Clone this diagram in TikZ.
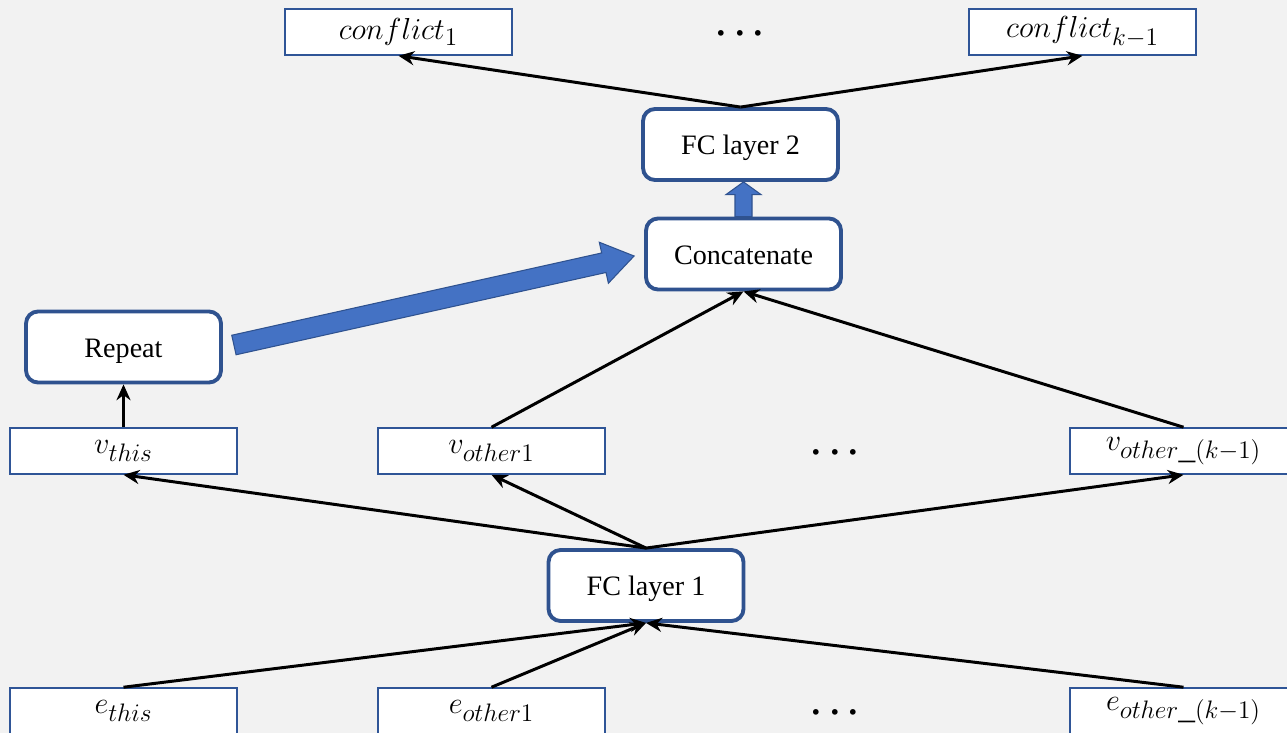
\documentclass[tikz,border=0pt]{standalone}
\usepackage{fontspec}
\setmainfont{Liberation Serif}
\usetikzlibrary{arrows.meta,calc}
\definecolor{bgc}{HTML}{F2F2F2}
\definecolor{framec}{HTML}{2F5597}
\definecolor{layerc}{HTML}{2F528F}
\definecolor{fatc}{HTML}{4472C4}

\begin{document}
\begin{tikzpicture}[x=0.02cm,y=-0.02cm,
  vecbox/.style={draw=framec, line width=0.9pt, fill=white,
    minimum width=4.54cm, minimum height=0.92cm, inner sep=0pt,
    font=\fontsize{19}{22}\selectfont},
  layerbox/.style={draw=layerc, line width=2.2pt, fill=white,
    rounded corners=0.24cm, minimum width=3.9cm, minimum height=1.42cm,
    inner sep=0pt, text height=15pt, text depth=3.5pt,
    font=\fontsize{16}{19}\selectfont},
  flow/.style={-{Stealth[length=9pt,width=8pt]}, line width=1.7pt, black},
  fatarrow/.style={fill=fatc, draw=layerc, line width=0.6pt},
  dotsnode/.style={font=\fontsize{20}{22}\selectfont\boldmath, inner sep=0pt}]

\fill[bgc] (0,0) rectangle (1287,733);
\useasboundingbox (0,0) rectangle (1287,733);
\clip (0,0) rectangle (1287,733);

% output row
\node[vecbox] (c1) at (398.5,32) {$conflict_1$};
\node[vecbox] (ck) at (1082.5,32) {$conflict_{k-1}$};
\node[dotsnode] (dtop) at (740,34) {$\cdots$};

% layers
\node[layerbox] (fc2) at (740.5,144.5) {FC layer 2};
\node[layerbox] (cat) at (743.5,254) {Concatenate};
\node[layerbox] (rep) at (123.5,347) {Repeat};
\node[layerbox] (fc1) at (646,585.5) {FC layer 1};

% hidden vectors
\node[vecbox] (vthis) at (123.5,451) {$v_{this}$};
\node[vecbox] (vo1) at (491.5,451) {$v_{other1}$};
\node[vecbox] (vok) at (1183.5,451) {$v_{other\_(k-1)}$};
\node[dotsnode] (dmid) at (835,453) {$\cdots$};

% embeddings
\node[vecbox] (ethis) at (123.5,711) {$e_{this}$};
\node[vecbox] (eo1) at (491.5,711) {$e_{other1}$};
\node[vecbox] (eok) at (1183.5,711) {$e_{other\_(k-1)}$};
\node[dotsnode] (dbot) at (835,713) {$\cdots$};

% thin connectors
\draw[flow] (fc2.north) -- (c1.south);
\draw[flow] (fc2.north) -- (ck.south);
\draw[flow] (vo1.north) -- (cat.south);
\draw[flow] (vok.north) -- (cat.south);
\draw[flow] (vthis.north) -- (rep.south);
\draw[flow] (fc1.north) -- (vthis.south);
\draw[flow] (fc1.north) -- (vo1.south);
\draw[flow] (fc1.north) -- (vok.south);
\draw[flow] (ethis.north) -- (fc1.south);
\draw[flow] (eo1.north) -- (fc1.south);
\draw[flow] (eok.north) -- (fc1.south);

% block arrow Concatenate -> FC layer 2
\filldraw[fatarrow] ($(cat.north)+(-8.5,0)$) -- ++(0,-22) -- ++(-9,0)
  -- (cat.north |- fc2.south) -- ($(cat.north)+(17.5,-22)$) -- ++(-9,0)
  -- ($(cat.north)+(8.5,0)$) -- cycle;

% block arrow Repeat -> Concatenate
\coordinate (ra) at ($(rep.east)+(11,-2)$);
\coordinate (ct) at ($(cat.west)+(-10,2)$);
\coordinate (hb) at ($(ct)!0.62cm!(ra)$);
\filldraw[fatarrow] ($(ra)!0.2cm!90:(ct)$) -- ($(hb)!0.2cm!90:(ct)$)
  -- ($(hb)!0.42cm!90:(ct)$) -- (ct) -- ($(hb)!0.42cm!-90:(ct)$)
  -- ($(hb)!0.2cm!-90:(ct)$) -- ($(ra)!0.2cm!-90:(ct)$) -- cycle;
\end{tikzpicture}
\end{document}
